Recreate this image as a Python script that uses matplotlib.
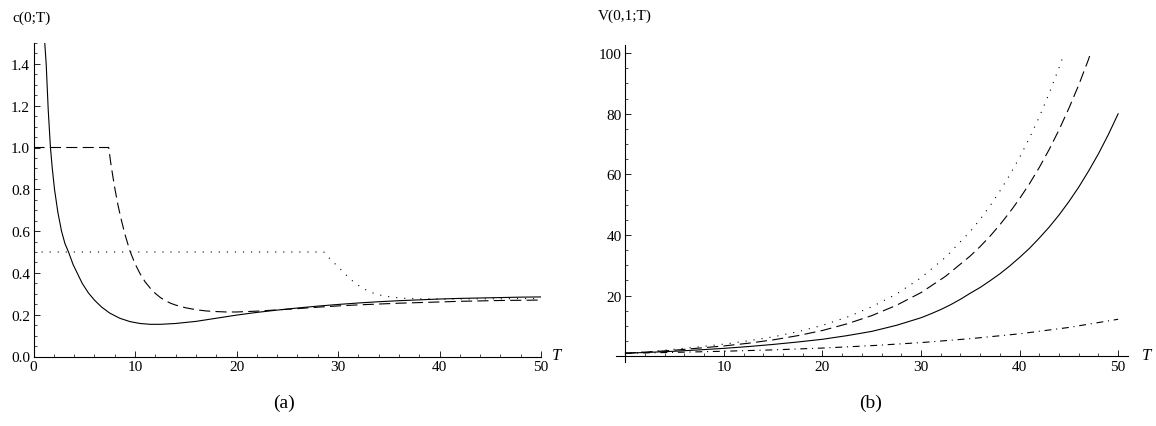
import matplotlib
matplotlib.use('Agg')
import matplotlib.pyplot as plt
from matplotlib.ticker import FixedLocator, MultipleLocator, NullFormatter


# --- panel (a): c(0;T) ---
a_solid_T = [1.05, 1.11, 1.25, 1.45, 1.67, 1.85, 2.07, 2.4, 2.76, 3.1, 3.45, 3.9, 4.3, 4.8,
             5.4, 6.0, 6.7, 7.5, 8.5, 9.5, 10.5, 11.5, 12.5, 14, 16, 18, 20, 22, 24, 26,
             28, 30, 32, 34, 36, 38, 40, 42, 44, 46, 48, 50]
a_solid_c = [1.58, 1.5, 1.4, 1.18, 1.0, 0.9, 0.8, 0.69, 0.6, 0.54, 0.5, 0.44, 0.4, 0.35,
             0.305, 0.27, 0.237, 0.208, 0.183, 0.167, 0.158, 0.154, 0.154, 0.158, 0.168,
             0.183, 0.198, 0.211, 0.222, 0.232, 0.241, 0.249, 0.256, 0.262, 0.267, 0.271,
             0.275, 0.278, 0.28, 0.282, 0.284, 0.285]

a_dashed_T = [0, 7.41, 7.6, 7.8, 8.0, 8.3, 8.6, 9.0, 9.5, 10.0, 10.5, 11.0, 11.5, 12.0,
              12.5, 13.0, 13.5, 14.0, 15, 16, 17, 18, 19, 20, 22, 24, 26, 28, 30, 32, 34,
              36, 38, 40, 42, 44, 46, 48, 50]
a_dashed_c = [1.0, 1.0, 0.93, 0.867, 0.808, 0.73, 0.664, 0.586, 0.505, 0.444, 0.396, 0.357,
              0.327, 0.302, 0.282, 0.267, 0.255, 0.246, 0.233, 0.224, 0.218, 0.215, 0.213,
              0.213, 0.217, 0.223, 0.229, 0.236, 0.242, 0.247, 0.251, 0.255, 0.258, 0.261,
              0.264, 0.266, 0.268, 0.269, 0.27]

a_dotted_T = [0, 28.6, 29.0, 29.5, 30.0, 30.7, 31.4, 32.1, 32.9, 33.6, 34.4, 35.3, 36.3,
              38, 40, 42, 44, 46, 48, 50]
a_dotted_c = [0.5, 0.5, 0.478, 0.453, 0.43, 0.395, 0.363, 0.337, 0.315, 0.301, 0.291, 0.284,
              0.279, 0.276, 0.275, 0.275, 0.276, 0.276, 0.277, 0.277]

a_xticks = [0, 10, 20, 30, 40, 50]
a_yticks = [0.0, 0.2, 0.4, 0.6, 0.8, 1.0, 1.2, 1.4]
a_yticklabels = ['0.0', '0.2', '0.4', '0.6', '0.8', '1.0', '1.2', '1.4']

# --- panel (b): V(0,1;T) ---
b_solid_T = [0, 2.5, 5, 7.5, 10, 12.5, 15, 17.5, 20, 22.5, 25, 27.5, 30, 31, 32, 33, 34,
             35, 36, 37, 38, 39, 40, 41, 42, 43, 44, 45, 46, 47, 48, 49, 50]
b_solid_V = [1.0, 1.3, 1.65, 2.1, 2.6, 3.2, 3.9, 4.7, 5.6, 6.8, 8.2, 10.2, 12.7, 14.0,
             15.4, 17.0, 18.8, 20.8, 22.7, 24.9, 27.2, 29.8, 32.6, 35.6, 39.0, 42.6, 46.6,
             51.0, 55.8, 61.1, 66.8, 73.1, 80.0]

b_dashed_T = [0, 2.5, 5, 7.5, 10, 12.5, 15, 17.5, 20, 22.5, 25, 27.5, 30, 32.5, 35, 36, 37,
              38, 39, 40, 41, 42, 43, 44, 45, 46, 47, 47.2]
b_dashed_V = [1.0, 1.45, 2.0, 2.7, 3.4, 4.3, 5.4, 6.8, 8.5, 10.7, 13.4, 16.8, 21.0, 26.4,
              33.1, 36.2, 39.6, 43.4, 47.5, 52.0, 56.9, 62.3, 68.2, 74.7, 81.8, 89.5, 98.0,
              100.0]

b_dotted_T = [0, 2.5, 5, 7.5, 10, 12.5, 15, 17.5, 20, 22.5, 25, 27.5, 30, 32.5, 35, 36, 37,
              38, 39, 40, 41, 42, 43, 44, 44.5]
b_dotted_V = [1.0, 1.55, 2.3, 3.1, 4.0, 5.1, 6.4, 8.1, 10.2, 12.9, 16.3, 20.5, 25.9, 32.7,
              41.2, 45.2, 49.6, 54.5, 59.8, 65.6, 72.0, 79.0, 86.7, 95.2, 99.7]

b_dashdot_T = [0, 5, 10, 15, 20, 25, 30, 35, 40, 45, 50]
b_dashdot_V = [1.0, 1.28, 1.65, 2.1, 2.7, 3.5, 4.5, 5.8, 7.4, 9.5, 12.2]

b_xticks = [10, 20, 30, 40, 50]
b_yticks = [20, 40, 60, 80, 100]

W, H = 1156, 427
serif = 'Liberation Serif'
plt.rcParams['lines.scale_dashes'] = False

DASHED = (0, (8.0, 3.8))
DOTTED = (0, (0.8, 5.0))
DASHDOT = (0, (5.0, 3.4, 0.8, 3.4))
LW = 0.8


def px_rect(x0, y0, x1, y1):
    # pixel box (top-left origin) -> figure fraction rect
    return [x0 / W, 1 - y1 / H, (x1 - x0) / W, (y1 - y0) / H]


def style_ticks(ax):
    ax.tick_params(which='major', direction='in', length=4, width=0.6,
                   labelsize=11, pad=2.5)
    ax.tick_params(which='minor', direction='in', length=2.3, width=0.5)
    for lab in ax.get_xticklabels() + ax.get_yticklabels():
        lab.set_family(serif)
    for side in ('top', 'right'):
        ax.spines[side].set_visible(False)
    for side in ('left', 'bottom'):
        ax.spines[side].set_linewidth(0.8)


fig = plt.figure(figsize=(W / 100, H / 100), dpi=100)

# panel (a)
ax1 = fig.add_axes(px_rect(33.5, 44, 541, 357.5))
ax1.plot(a_solid_T, a_solid_c, color='black', lw=LW)
ax1.plot(a_dashed_T, a_dashed_c, color='black', lw=LW, linestyle=DASHED)
ax1.plot(a_dotted_T, a_dotted_c, color='black', lw=LW, linestyle=DOTTED)
ax1.set_xlim(0, 50)
ax1.set_ylim(0, 1.5)
ax1.xaxis.set_major_locator(FixedLocator(a_xticks))
ax1.xaxis.set_minor_locator(MultipleLocator(2))
ax1.set_yticks(a_yticks)
ax1.set_yticklabels(a_yticklabels)
ax1.yaxis.set_minor_locator(MultipleLocator(0.05))
ax1.xaxis.set_minor_formatter(NullFormatter())
style_ticks(ax1)

# panel (b)
ax2 = fig.add_axes(px_rect(615.5, 46, 1128, 363))
ax2.plot(b_solid_T, b_solid_V, color='black', lw=LW)
ax2.plot(b_dashed_T, b_dashed_V, color='black', lw=LW, linestyle=DASHED)
ax2.plot(b_dotted_T, b_dotted_V, color='black', lw=LW, linestyle=DOTTED)
ax2.plot(b_dashdot_T, b_dashdot_V, color='black', lw=LW, linestyle=DASHDOT)
ax2.set_xlim(-1, 51)
ax2.set_ylim(-1.9, 102.7)
ax2.spines['left'].set_position(('data', 0))
ax2.spines['bottom'].set_position(('data', 0))
ax2.xaxis.set_major_locator(FixedLocator(b_xticks))
ax2.xaxis.set_minor_locator(FixedLocator([t for t in range(2, 51, 2) if t % 10]))
ax2.yaxis.set_major_locator(FixedLocator(b_yticks))
ax2.yaxis.set_minor_locator(FixedLocator([v for v in range(5, 101, 5) if v % 20]))
style_ticks(ax2)

# labels
fig.text(12 / W, 1 - 18 / H, 'c(0;T)', family=serif, fontsize=11, ha='left', va='center')
fig.text(598 / W, 1 - 16 / H, 'V(0,1;T)', family=serif, fontsize=11, ha='left', va='center')
fig.text(557 / W, 1 - 356 / H, 'T', family=serif, style='italic', fontsize=12,
         ha='center', va='center')
fig.text(1147 / W, 1 - 356 / H, 'T', family=serif, style='italic', fontsize=12,
         ha='center', va='center')
fig.text(284 / W, 1 - 403 / H, '(a)', family=serif, fontsize=14, ha='center', va='center')
fig.text(871 / W, 1 - 403 / H, '(b)', family=serif, fontsize=14, ha='center', va='center')

fig.savefig('out.png', dpi=100)
